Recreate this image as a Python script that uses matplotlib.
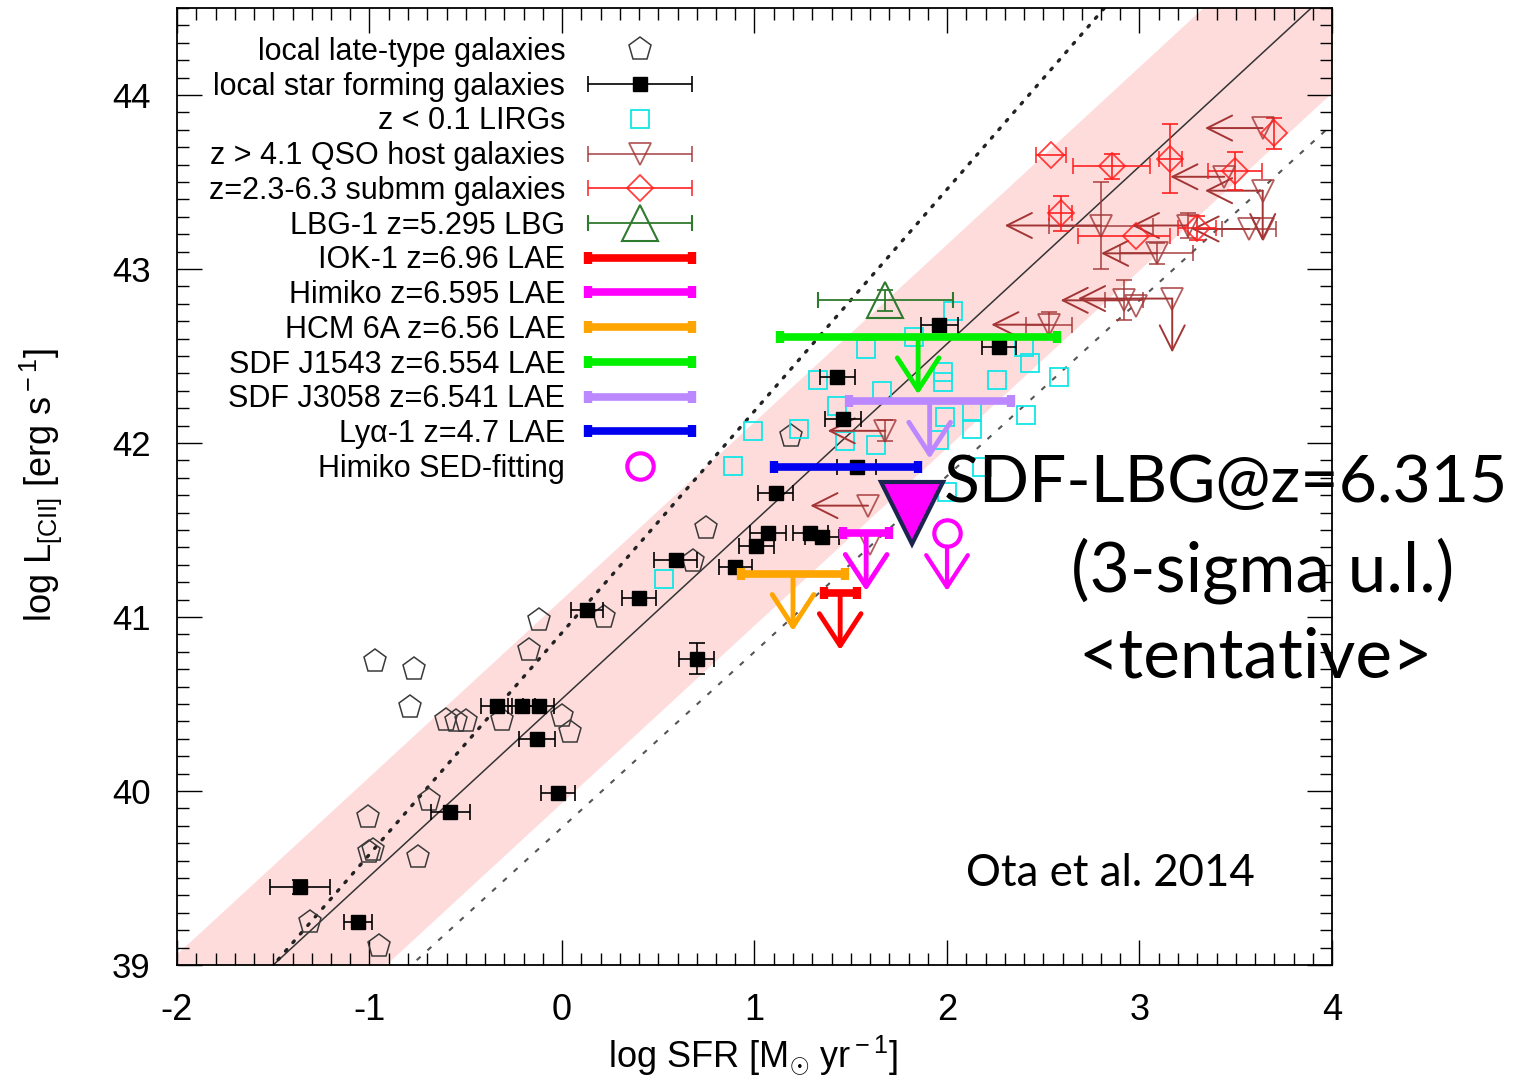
import numpy as np
import matplotlib
matplotlib.use("Agg")
import matplotlib.pyplot as plt
from matplotlib import font_manager
from matplotlib.legend_handler import HandlerErrorbar

# ---------------------------------------------------------------- data
# local late-type galaxies (log SFR, log L[CII])
late_sfr = [-0.97, -0.77, -0.79, -0.60, -0.55, -0.50, -0.31, -0.12, -0.17, 0.22,
            0.00, 0.04, -0.69, -1.01, -1.00, -0.98, -0.75, -1.31, -0.95, 0.75,
            0.68, 1.19]
late_lcii = [40.75, 40.70, 40.48, 40.41, 40.40, 40.40, 40.41, 40.98, 40.81, 41.00,
             40.43, 40.34, 39.95, 39.85, 39.65, 39.66, 39.62, 39.25, 39.11, 41.51,
             41.32, 42.04]

# local star forming galaxies
sf_sfr = [0.13, 0.40, 0.70, -0.34, -0.21, -0.12, -0.13, -0.02, -0.58, -1.36, -1.06,
          1.96, 2.27, 1.43, 1.46, 1.53, 1.11, 1.07, 1.01, 1.29, 1.35, 0.90, 0.59]
sf_lcii = [41.04, 41.11, 40.76, 40.49, 40.49, 40.49, 40.30, 39.99, 39.88, 39.45, 39.25,
           42.68, 42.55, 42.38, 42.14, 41.86, 41.71, 41.48, 41.41, 41.48, 41.46, 41.29, 41.33]
sf_sfr_err = [0.085, 0.09, 0.09, 0.08, 0.07, 0.08, 0.095, 0.09, 0.10, 0.155, 0.075,
              0.095, 0.09, 0.09, 0.095, 0.10, 0.09, 0.095, 0.09, 0.09, 0.09, 0.085, 0.11]
sf_lcii_err = [0, 0, 0.09, 0, 0, 0, 0, 0, 0, 0.04, 0,
               0, 0, 0, 0, 0, 0, 0, 0, 0, 0, 0, 0]

# z < 0.1 LIRGs
lirg_sfr = [2.03, 1.83, 1.58, 1.33, 1.98, 1.98, 2.26, 2.43, 2.40, 2.58, 1.66, 1.43, 1.99,
            2.13, 2.13, 2.41, 0.99, 1.23, 1.47, 1.63, 1.96, 0.89, 2.18, 2.00, 0.53]
lirg_lcii = [42.76, 42.61, 42.54, 42.36, 42.41, 42.35, 42.36, 42.46, 42.55, 42.38, 42.30,
             42.21, 42.15, 42.18, 42.08, 42.16, 42.07, 42.08, 42.01, 41.99, 42.02, 41.87,
             41.86, 41.72, 41.22]

# z > 4.1 QSO host galaxies; *_lim: length of the upper-limit arrow (0 = none)
qso_sfr = [3.64, 3.44, 3.64, 2.80, 3.25, 3.57, 3.64, 3.09, 2.92, 2.98, 3.17, 2.53,
           1.68, 1.59, 1.60]
qso_lcii = [43.81, 43.53, 43.45, 43.25, 43.25, 43.23, 43.23, 43.09, 42.82, 42.79, 42.83,
            42.68, 42.07, 41.64, 41.42]
qso_sfr_err = [0, 0, 0, 0.27, 0, 0.14, 0, 0.19, 0.10, 0, 0, 0.12, 0, 0, 0]
qso_lcii_err = [0, 0, 0, 0.25, 0.07, 0, 0, 0.06, 0.115, 0, 0, 0.075, 0.06, 0, 0]
qso_sfr_lim = [0.30, 0.28, 0.30, 0.50, 0.29, 0.30, 0, 0.29, 0.33, 0, 0.49, 0.30,
               0.30, 0.30, 0]
qso_lcii_lim = [0, 0, 0.29, 0, 0, 0, 0, 0, 0, 0, 0.31, 0, 0, 0, 0]

# z = 2.3-6.3 submm galaxies
smg_sfr = [2.54, 2.855, 3.16, 3.495, 3.70, 2.59, 2.98, 3.30]
smg_lcii = [43.655, 43.59, 43.635, 43.565, 43.78, 43.32, 43.19, 43.235]
smg_sfr_err_lo = [0.08, 0.20, 0.06, 0.14, 0, 0.06, 0.30, 0.10]
smg_sfr_err_hi = [0.08, 0.20, 0.06, 0.14, 0, 0.06, 0.18, 0.10]
smg_lcii_err = [0, 0.07, 0.20, 0.11, 0.09, 0.10, 0, 0.07]

# LBG-1 z=5.295
lbg_sfr = [1.68]
lbg_lcii = [42.82]
lbg_sfr_err = [0.35]
lbg_lcii_err = [0.06]

# z > 4.7 LAEs: SFR range and [CII] value (upper limits except Lya-1)
lae_names = ["IOK-1 z=6.96 LAE", "Himiko z=6.595 LAE", "HCM 6A z=6.56 LAE",
             "SDF J1543 z=6.554 LAE", "SDF J3058 z=6.541 LAE", "Ly\u03b1-1 z=4.7 LAE"]
lae_sfr_lo = [1.36, 1.46, 0.93, 1.13, 1.49, 1.10]
lae_sfr_hi = [1.53, 1.70, 1.47, 2.57, 2.33, 1.85]
lae_lcii = [41.14, 41.48, 41.25, 42.61, 42.24, 41.86]
lae_upper = [True, True, True, True, True, False]

# Himiko SED-fitting
sed_sfr = [2.00]
sed_lcii = [41.48]

# SDF-LBG z=6.315, 3-sigma upper limit
lbg6_sfr = [1.82]
lbg6_lcii = [41.60]

# L[CII]-SFR relations: intercept, slope
rel_main = (40.53, 1.02)
rel_band = (0.57, 0.60)        # upper / lower half-width of the scatter band
rel_dotted = (40.91, 1.274)
rel_dashed = (39.79, 1.01)

x_ticks = [-2, -1, 0, 1, 2, 3, 4]
y_ticks = [39, 40, 41, 42, 43, 44]
ARROW = 0.33                   # length of upper-limit arrows (dex)

# ---------------------------------------------------------------- style
installed = {f.name for f in font_manager.fontManager.ttflist}
NARROW = "Liberation Sans Narrow" if "Liberation Sans Narrow" in installed else "Liberation Sans"
plt.rcParams["font.family"] = ["Liberation Sans", "DejaVu Sans"]
plt.rcParams["axes.unicode_minus"] = False
plt.rcParams["mathtext.fontset"] = "custom"
plt.rcParams["mathtext.rm"] = NARROW
plt.rcParams["mathtext.it"] = NARROW + ":italic"
plt.rcParams["mathtext.bf"] = NARROW + ":bold"

BROWN = "#A33535"
RED = "#FF2020"
GREEN_D = "#2E7A2E"
CYAN = "#12E6E6"
lae_colors = ["#FF0000", "#FF00FF", "#FFA500", "#00F000", "#BB88FF", "#0000F0"]

W, H = 1521, 1087
fig = plt.figure(figsize=(W / 100, H / 100), dpi=100)
ax = fig.add_axes([177 / W, 1 - 965 / H, 1155 / W, 957 / H])
ax.set_xlim(-2, 4)
ax.set_ylim(39, 44.5)

# relations
xx = np.linspace(-2.2, 4.2, 300)
main = rel_main[0] + rel_main[1] * xx
ax.fill_between(xx, main - rel_band[1], main + rel_band[0], color="#FFDCDC", lw=0, zorder=0)
ax.plot(xx, main, color="#333333", lw=1.1, zorder=1)
ax.plot(xx, rel_dotted[0] + rel_dotted[1] * xx, color="#222222", lw=2.4,
        ls=(0, (0.6, 2.8)), dash_capstyle="round", zorder=1)
ax.plot(xx, rel_dashed[0] + rel_dashed[1] * xx, color="#555555", lw=1.5,
        ls=(0, (2.5, 4.5)), zorder=1)


def nz(a):
    a = np.asarray(a, dtype=float)
    return np.where(a > 0, a, np.nan)


def down_arrow(x, y, color, lw, hl, hw, start_pad=0.0, length=ARROW, z=6):
    ax.annotate("", xy=(x, y - length), xytext=(x, y),
                arrowprops=dict(arrowstyle=f"->,head_length={hl},head_width={hw}",
                                color=color, lw=lw, shrinkA=start_pad, shrinkB=0),
                zorder=z)


def left_arrow(x, y, length, color, lw, hl, hw, z=4):
    ax.annotate("", xy=(x - length, y), xytext=(x, y),
                arrowprops=dict(arrowstyle=f"->,head_length={hl},head_width={hw}",
                                color=color, lw=lw, shrinkA=0, shrinkB=0),
                zorder=z)


# local late-type galaxies
h_late, = ax.plot(late_sfr, late_lcii, "p", ms=17, mfc="none", mec="#3A3A3A", mew=1.1,
                  zorder=3)

# local star forming galaxies
h_sf = ax.errorbar(sf_sfr, sf_lcii, xerr=nz(sf_sfr_err), fmt="s", ms=9.5, color="black",
                   ecolor="black", elinewidth=1.2, capsize=5.5, capthick=1.2, zorder=5)
ax.errorbar(sf_sfr, sf_lcii, yerr=nz(sf_lcii_err), fmt="none", ecolor="black",
            elinewidth=1.2, capsize=5.5, capthick=1.2, zorder=5)

# LIRGs
h_lirg, = ax.plot(lirg_sfr, lirg_lcii, "s", ms=13, mfc="none", mec=CYAN, mew=1.3, zorder=3)

# QSO hosts
h_qso = ax.errorbar(qso_sfr, qso_lcii, xerr=nz(qso_sfr_err), fmt="v", ms=16, mfc="none",
                    mec=BROWN, mew=1.3, color=BROWN, ecolor=BROWN, elinewidth=1.3,
                    capsize=5.5, capthick=1.3, alpha=0.8, zorder=4)
ax.errorbar(qso_sfr, qso_lcii, yerr=nz(qso_lcii_err), fmt="none", ecolor=BROWN,
            elinewidth=1.3, capsize=5.5, capthick=1.3, alpha=0.8, zorder=4)
for x, y, lx, ly in zip(qso_sfr, qso_lcii, qso_sfr_lim, qso_lcii_lim):
    if lx > 0:
        left_arrow(x, y, lx, BROWN, 1.4, 1.8, 0.9)
    if ly > 0:
        down_arrow(x, y, BROWN, 1.4, 1.8, 0.9, length=ly, z=4)

# submm galaxies
h_smg = ax.errorbar(smg_sfr, smg_lcii, xerr=[nz(smg_sfr_err_lo), nz(smg_sfr_err_hi)],
                    fmt="D", ms=13, mfc="none", mec=RED, mew=1.3, color=RED, ecolor=RED,
                    elinewidth=1.4, capsize=5.5, capthick=1.4, alpha=0.85, zorder=4)
ax.errorbar(smg_sfr, smg_lcii, yerr=nz(smg_lcii_err), fmt="none", ecolor=RED,
            elinewidth=1.4, capsize=5.5, capthick=1.4, alpha=0.85, zorder=4)

# LBG-1
h_lbg = ax.errorbar(lbg_sfr, lbg_lcii, xerr=lbg_sfr_err, fmt="^", ms=26, mfc="none",
                    mec=GREEN_D, mew=1.5, color=GREEN_D, ecolor=GREEN_D, elinewidth=1.3,
                    capsize=5.5, capthick=1.3, zorder=4)
ax.errorbar(lbg_sfr, lbg_lcii, yerr=lbg_lcii_err, fmt="none", ecolor=GREEN_D,
            elinewidth=1.3, capsize=5.5, capthick=1.3, zorder=4)

# LAEs
h_lae = []
for lo, hi, y, up, c in zip(lae_sfr_lo, lae_sfr_hi, lae_lcii, lae_upper, lae_colors):
    cx = 0.5 * (lo + hi)
    h = ax.errorbar([cx], [y], xerr=[0.5 * (hi - lo)], fmt="none", ecolor=c,
                    elinewidth=5.5, capsize=4.5, capthick=6, zorder=6)
    h_lae.append(h)
    if up:
        down_arrow(cx, y, c, 3.5, 2.3, 1.5)

# Himiko SED-fitting
h_sed, = ax.plot(sed_sfr, sed_lcii, "o", ms=19, mfc="none", mec="#FF00FF", mew=3, zorder=6)
for x, y in zip(sed_sfr, sed_lcii):
    down_arrow(x, y, "#FF00FF", 3.0, 2.3, 1.5, start_pad=9.5)

# SDF-LBG upper limit
ax.plot(lbg6_sfr, lbg6_lcii, "v", ms=44, mfc="#FF00FF", mec="#1A2650", mew=3, zorder=10)

# ---------------------------------------------------------------- axes
ax.set_xticks(x_ticks)
ax.set_yticks(y_ticks)
ax.set_xticks(np.arange(-2, 4.001, 0.1), minor=True)
ax.set_yticks(np.arange(39, 44.501, 0.1), minor=True)
ax.tick_params(which="both", direction="in", top=True, right=True, width=1.0)
ax.tick_params(which="major", length=18)
ax.tick_params(which="minor", length=8.5)
ax.tick_params(axis="y", labelsize=25, pad=19)
ax.tick_params(axis="x", labelsize=26, pad=20)
for lab in ax.get_xticklabels():
    lab.set_family(NARROW)
for sp in ax.spines.values():
    sp.set_linewidth(1.3)

ax.set_xlabel(r"log SFR [M$_{\odot}$ yr$^{\rm -1}$]", fontsize=26, family=NARROW)
ax.xaxis.set_label_coords(0.4987, -0.072)
ax.set_ylabel(r"log L$_{\rm [CII]}$ [erg s$^{\rm -1}$]", fontsize=26, family=NARROW)
ax.yaxis.set_label_coords(-0.098, 0.502)

# legend
handles = [h_late, h_sf, h_lirg, h_qso, h_smg, h_lbg] + h_lae + [h_sed]
labels = ["local late-type galaxies", "local star forming galaxies", "z < 0.1 LIRGs",
          "z > 4.1 QSO host galaxies", "z=2.3-6.3 submm galaxies",
          "LBG-1 z=5.295 LBG"] + lae_names + ["Himiko SED-fitting"]
eb = HandlerErrorbar(xerr_size=1.7, numpoints=1)
hmap = {h: eb for h in [h_sf, h_qso, h_smg, h_lbg] + h_lae}
ax.legend(handles, labels, handler_map=hmap, loc="upper right",
          bbox_to_anchor=((692 - 177) / 1155, (965 - 37) / 957), fontsize=22,
          markerfirst=False, frameon=False, handlelength=3.4, handletextpad=0.75,
          labelspacing=0.155, borderpad=0, borderaxespad=0, numpoints=1)

# annotations
fig.text(1226 / W, 1 - 502 / H, "SDF-LBG@z=6.315", ha="center", va="baseline",
         fontsize=47.5, family="Lato")
fig.text(1263 / W, 1 - 592 / H, "(3-sigma u.l.)", ha="center", va="baseline",
         fontsize=50, family="Lato")
fig.text(1256 / W, 1 - 678 / H, "<tentative>", ha="center", va="baseline",
         fontsize=50, family="Lato")
fig.text(1110 / W, 1 - 886 / H, "Ota et al. 2014", ha="center", va="baseline",
         fontsize=31.5, family="Lato")

fig.savefig("out.png", dpi=100)
